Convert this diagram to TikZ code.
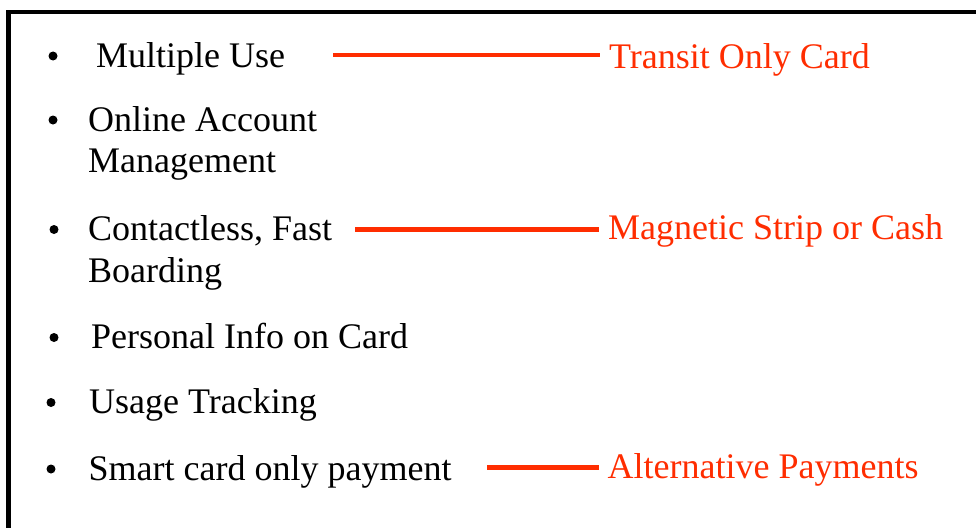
\documentclass[tikz,border=0pt]{standalone}
\usepackage{fontspec}
\setmainfont{Liberation Serif}
\definecolor{labred}{RGB}{255,45,0}
\begin{document}
\begin{tikzpicture}[x=1pt,y=-1pt,
  txt/.style={anchor=base west,inner sep=0pt,font=\fontsize{36}{41}\selectfont},
  lab/.style={anchor=base west,inner xsep=9pt,inner ysep=0pt,text=labred,font=\fontsize{36}{41}\selectfont},
  bul/.style={circle,fill=black,inner sep=0pt,minimum size=9pt},
  redline/.style={draw=labred,line width=4.5pt},
  frame/.style={draw=black,line width=4.5pt}]
\useasboundingbox (0,0) rectangle (976,527);
\clip (0,0) rectangle (976,527);
\fill[white] (0,0) rectangle (976,527);
% frame (open to the right and bottom)
\coordinate (fb) at (8.5,560);
\coordinate (fc) at (8.5,12);
\coordinate (fr) at (1000,12);
\draw[frame] (fb) -- (fc) -- (fr);
% bullets
\node[bul] (b1) at (53,56) {};
\node[bul] (b2) at (53,120) {};
\node[bul] (b3) at (54,229.5) {};
\node[bul] (b4) at (54,337.5) {};
\node[bul] (b5) at (51,402.5) {};
\node[bul] (b6) at (51,469) {};
% items
\node[txt] (t1) at (96,67.5) {Multiple Use};
\node[txt] (t2) at (88,131) {Online Account};
\node[txt] (t2b) at (88,172.5) {Management};
\node[txt] (t3) at (88,240.5) {Contactless, Fast};
\node[txt] (t3b) at (88,282.5) {Boarding};
\node[txt] (t4) at (91,348.5) {Personal Info on Card};
\node[txt] (t5) at (89,413.5) {Usage Tracking};
\node[txt] (t6) at (88.5,480) {Smart card only payment};
% red labels
\node[lab] (r1) at (600,68) {Transit Only Card};
\node[lab] (r2) at (599,239.5) {Magnetic Strip or Cash};
\node[lab] (r3) at (598.5,478.5) {Alternative Payments};
% connectors
\coordinate (l1) at (333,55);
\coordinate (l2) at (355,229.5);
\coordinate (l3) at (487,467.5);
\draw[redline] (l1) -- (l1 -| r1.west);
\draw[redline] (l2) -- (l2 -| r2.west);
\draw[redline] (l3) -- (l3 -| r3.west);
\end{tikzpicture}
\end{document}
